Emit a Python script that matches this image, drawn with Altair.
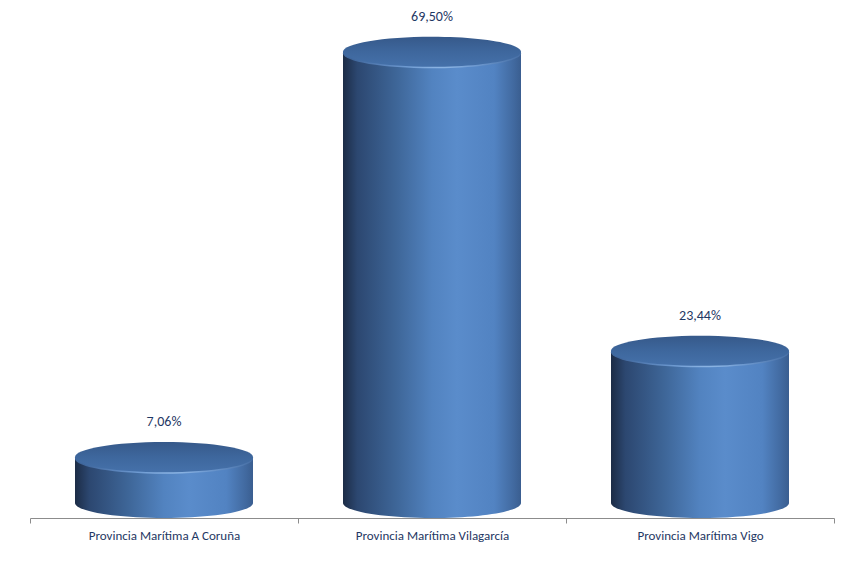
import altair as alt
import pandas as pd

categories = ["Provincia Marítima A Coruña", "Provincia Marítima Vilagarcía", "Provincia Marítima Vigo"]
values = [7.06, 69.50, 23.44]

df = pd.DataFrame({
    "cat": categories,
    "value": values,
    "label": [f"{v:.2f}".replace(".", ",") + "%" for v in values],
})

k = 0.169
c = 0.093
ellipse = (f"M-1,0 C-1,{-c} -0.552,{-k} 0,{-k} C0.552,{-k} 1,{-c} 1,0 "
           f"C1,{c} 0.552,{k} 0,{k} C-0.552,{k} -1,{c} -1,0 Z")
CW = 178
SIZE = CW * CW
FONT = "Carlito, Liberation Sans Narrow, Lato, Open Sans"

body_grad = alt.Gradient(
    gradient="linear", x1=0, x2=1, y1=0, y2=0,
    stops=[
        alt.GradientStop(color="#1c2c46", offset=0.0),
        alt.GradientStop(color="#2c4770", offset=0.08),
        alt.GradientStop(color="#3e6698", offset=0.3),
        alt.GradientStop(color="#5283c0", offset=0.5),
        alt.GradientStop(color="#5a8ccb", offset=0.64),
        alt.GradientStop(color="#5283c2", offset=0.85),
        alt.GradientStop(color="#41699f", offset=0.96),
        alt.GradientStop(color="#3a5e90", offset=1.0),
    ],
)
rim_grad = alt.Gradient(
    gradient="radial", x1=0.55, y1=0.5, x2=0.55, y2=0.5, r1=0, r2=0.5,
    stops=[
        alt.GradientStop(color="#9cc3ee", offset=0.0),
        alt.GradientStop(color="#6f9bd2", offset=0.4),
        alt.GradientStop(color="#3f669c", offset=1.0),
    ],
)
top_grad = alt.Gradient(
    gradient="linear", x1=0, x2=0, y1=0, y2=1,
    stops=[
        alt.GradientStop(color="#36598a", offset=0.0),
        alt.GradientStop(color="#3e679d", offset=0.5),
        alt.GradientStop(color="#4571aa", offset=1.0),
    ],
)

x_enc = alt.X("cat:N", sort=categories, title=None,
              scale=alt.Scale(paddingInner=0, paddingOuter=0),
              axis=alt.Axis(labelAngle=0, tickBand="extent", domainColor="#8c8c8c",
                            tickColor="#8c8c8c", tickSize=5, labelPadding=6,
                            labelColor="#1f3864", labelFontSize=13,
                            labelFont=FONT, grid=False))
y_scale = alt.Scale(domain=[-2.315, 76.23], nice=False, zero=False)
y_enc = alt.Y("value:Q", scale=y_scale, axis=None, title=None)

base = alt.Chart(df)

bottom = base.mark_point(shape=ellipse, filled=True, fill=body_grad, opacity=1, strokeWidth=0).encode(
    x=x_enc, y=alt.Y("datum_zero:Q", scale=y_scale, axis=None), size=alt.value(SIZE)
).transform_calculate(datum_zero="0")

body = base.mark_bar(size=CW, fill=body_grad, strokeWidth=0).encode(
    x=x_enc, y=y_enc, y2=alt.Y2(datum=0)
)

rim = base.mark_point(shape=ellipse, filled=True, fill=rim_grad, opacity=1, strokeWidth=0, yOffset=1.5).encode(
    x=x_enc, y=y_enc, size=alt.value(SIZE)
)

top = base.mark_point(shape=ellipse, filled=True, fill=top_grad, opacity=1, strokeWidth=0).encode(
    x=x_enc, y=y_enc, size=alt.value(SIZE)
)

labels = base.mark_text(dy=-35, fontSize=14, color="#1f3864", font=FONT).encode(
    x=x_enc, y=y_enc, text="label:N"
)

chart = alt.layer(bottom, body, rim, top, labels).properties(
    width=804, height=510,
    autosize=alt.AutoSizeParams(type="none"),
    padding={"left": 22, "top": 0, "right": 7, "bottom": 30},
).configure(background="white").configure_view(stroke=None, strokeWidth=0)

chart.save("out.html", embed_options={"renderer": "svg", "actions": False})
